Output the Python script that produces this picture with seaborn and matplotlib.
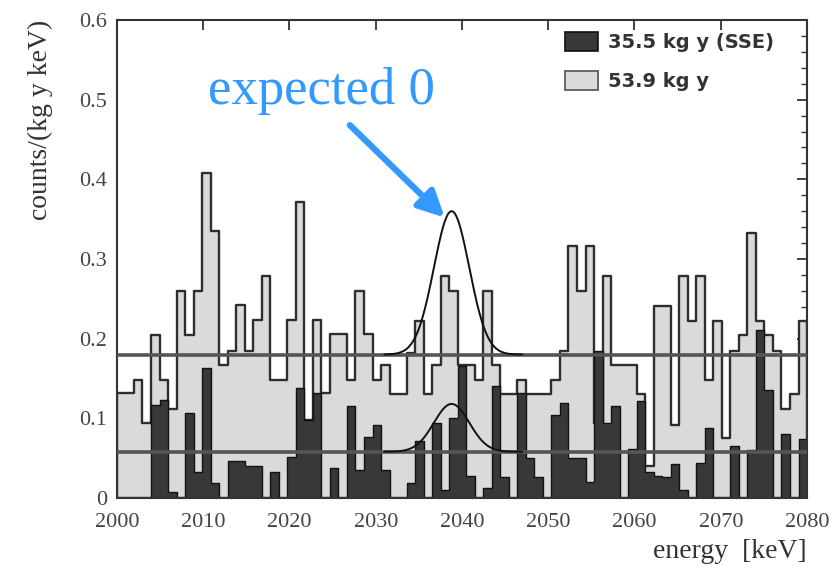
import numpy as np
import pandas as pd
import seaborn as sns
import matplotlib
matplotlib.use("Agg")
import matplotlib.pyplot as plt
from matplotlib.ticker import MultipleLocator, FuncFormatter
from matplotlib.patches import Patch

# ---------------- data ----------------
E_MIN, E_MAX = 2000, 2080
N_BINS = 81

# 53.9 kg y spectrum (light histogram), counts/(kg y keV) per bin, left to right
light_vals = [0.132, 0.132, 0.148, 0.094, 0.205, 0.148, 0.111, 0.260, 0.205, 0.260,
              0.408, 0.335, 0.167, 0.185, 0.242, 0.185, 0.223, 0.279, 0.148, 0.148,
              0.223, 0.371, 0.098, 0.223, 0.132, 0.206, 0.206, 0.148, 0.260, 0.206,
              0.148, 0.167, 0.130, 0.130, 0.182, 0.222, 0.130, 0.167, 0.278, 0.260,
              0.167, 0.167, 0.148, 0.260, 0.167, 0.130, 0.130, 0.148, 0.130, 0.130,
              0.130, 0.148, 0.185, 0.316, 0.260, 0.316, 0.094, 0.278, 0.167, 0.167,
              0.167, 0.130, 0.040, 0.241, 0.241, 0.092, 0.278, 0.222, 0.278, 0.148,
              0.222, 0.075, 0.185, 0.205, 0.333, 0.222, 0.205, 0.185, 0.112, 0.130,
              0.222]

# 35.5 kg y (SSE) spectrum (dark histogram)
dark_vals = [0.0, 0.0, 0.0, 0.0, 0.117, 0.123, 0.008, 0.0, 0.106, 0.032,
             0.163, 0.019, 0.0, 0.046, 0.046, 0.040, 0.040, 0.0, 0.033, 0.0,
             0.051, 0.138, 0.098, 0.132, 0.0, 0.038, 0.0, 0.115, 0.035, 0.077,
             0.092, 0.035, 0.0, 0.0, 0.019, 0.071, 0.0, 0.094, 0.010, 0.100,
             0.165, 0.028, 0.0, 0.012, 0.141, 0.026, 0.0, 0.132, 0.050, 0.026,
             0.0, 0.104, 0.119, 0.050, 0.050, 0.020, 0.184, 0.094, 0.115, 0.0,
             0.061, 0.122, 0.033, 0.027, 0.026, 0.042, 0.010, 0.0, 0.044, 0.088,
             0.0, 0.0, 0.065, 0.0, 0.060, 0.211, 0.136, 0.0, 0.080, 0.0,
             0.074]

series_labels = ["35.5 kg y (SSE)", "53.9 kg y"]

# expected signal model (background level + peak at Q_bb)
Q_BB = 2038.8
SIGMA = 2.05
bkg_light, peak_light = 0.180, 0.180
bkg_dark, peak_dark = 0.058, 0.060

x_ticks = [2000, 2010, 2020, 2030, 2040, 2050, 2060, 2070, 2080]
y_ticks = [0.0, 0.1, 0.2, 0.3, 0.4, 0.5, 0.6]

annotation_text = "expected 0"
x_label = "energy  [keV]"
y_label = "counts/(kg y keV)"

# ---------------- build frames ----------------
bw = (E_MAX - E_MIN) / N_BINS
centers = E_MIN + bw * (np.arange(N_BINS) + 0.5)
df_light = pd.DataFrame({"energy": centers, "rate": light_vals})
df_dark = pd.DataFrame({"energy": centers, "rate": dark_vals})

xs = np.linspace(2031, 2047, 300)
g = np.exp(-0.5 * ((xs - Q_BB) / SIGMA) ** 2)
df_curve_l = pd.DataFrame({"energy": xs, "rate": bkg_light + peak_light * g})
df_curve_d = pd.DataFrame({"energy": xs, "rate": bkg_dark + peak_dark * g})

# ---------------- plot ----------------
sns.set_theme(style="white")
plt.rcParams["font.family"] = ["Liberation Serif", "DejaVu Serif"]

fig = plt.figure(figsize=(8.35, 5.71), dpi=100)
ax = fig.add_axes([0.140, 0.128, 0.8265, 0.837])

sns.histplot(data=df_light, x="energy", weights="rate", binwidth=bw,
             binrange=(E_MIN, E_MAX), element="step", fill=True,
             color="#dadada", alpha=1.0, edgecolor="#2e2e2e", linewidth=1.7,
             ax=ax, zorder=1)
sns.histplot(data=df_dark, x="energy", weights="rate", binwidth=bw,
             binrange=(E_MIN, E_MAX), element="step", fill=True,
             color="#383838", alpha=1.0, edgecolor="#111111", linewidth=1.0,
             ax=ax, zorder=2)

# background levels
ax.axhline(bkg_light, color="#555555", lw=2.6, zorder=3)
ax.axhline(bkg_dark, color="#555555", lw=2.6, zorder=3)
sns.lineplot(data=df_curve_l, x="energy", y="rate", color="#111111", lw=1.4, ax=ax, zorder=4)
sns.lineplot(data=df_curve_d, x="energy", y="rate", color="#111111", lw=1.4, ax=ax, zorder=4)

ax.set_xlim(E_MIN, E_MAX)
ax.set_ylim(0, 0.6)
ax.set_xticks(x_ticks)
ax.set_yticks(y_ticks)
ax.yaxis.set_minor_locator(MultipleLocator(0.02))
ax.yaxis.set_major_formatter(FuncFormatter(lambda v, p: "0" if abs(v) < 1e-9 else f"{v:.1f}"))
ax.tick_params(axis="both", which="both", direction="in", top=True, right=True,
               labelsize=16, labelcolor="#444444", color="#333333")
ax.tick_params(axis="both", which="major", length=7, width=1.3)
ax.tick_params(axis="y", which="minor", length=4, width=1.0)
ax.tick_params(axis="x", which="major", pad=11)
ax.tick_params(axis="y", which="major", pad=7)
for s in ax.spines.values():
    s.set_color("#333333")
    s.set_linewidth(1.5)

ax.set_xlabel("")
ax.set_ylabel("")
fig.text(0.966, 0.035, x_label, ha="right", va="center", fontsize=20, color="#333333")
fig.text(0.048, 0.965, y_label, ha="center", va="top", rotation=90, fontsize=20, color="#333333")

# legend
handles = [Patch(facecolor="#383838", edgecolor="#111111", lw=1.2),
           Patch(facecolor="#dadada", edgecolor="#666666", lw=1.4)]
leg = ax.legend(handles, series_labels, loc="upper left",
                bbox_to_anchor=(0.649, 0.975), frameon=False,
                prop={"family": "DejaVu Sans", "size": 14, "weight": "bold"},
                handlelength=1.7, handleheight=1.15, handletextpad=0.5,
                labelspacing=0.95, borderaxespad=0.0, borderpad=0.0)
for t in leg.get_texts():
    t.set_color("#333333")

# annotation: text and arrow
ax.text(2010.55, 0.494, annotation_text, fontsize=38, color="#3399ff",
        ha="left", va="baseline", zorder=6)
ax.annotate("", xy=(2038.0, 0.352), xytext=(2027.0, 0.468),
            arrowprops=dict(arrowstyle="-|>,head_length=1.3,head_width=0.65",
                            color="#3399ff", lw=4.5, shrinkA=0, shrinkB=0),
            zorder=6)

fig.savefig("out.png", dpi=100)
